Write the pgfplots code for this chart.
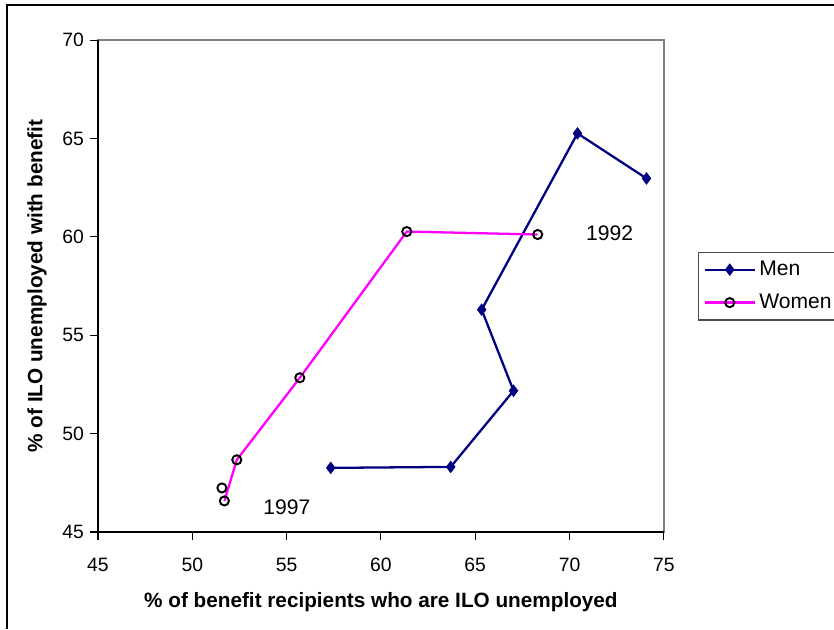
\documentclass[border=0pt]{standalone}
\usepackage{fontspec}
\setmainfont{Liberation Sans}
\usepackage{pgfplots}
\pgfplotsset{compat=1.18}
\definecolor{men}{HTML}{000080}
\definecolor{women}{HTML}{FF00FF}
\definecolor{frame}{HTML}{808080}

\begin{document}
\begin{tikzpicture}[x=0.02cm,y=0.02cm]
% page is 834 x 629 px, 1 px = 0.02cm
\useasboundingbox (0,0) rectangle (834,629);
\draw[black, line width=0.6pt] (7,0) -- (7,624) -- (834,624);
\begin{axis}[
  at={(1.96cm,1.94cm)}, anchor=south west,
  scale only axis,
  width=11.32cm, height=9.84cm,
  xmin=45, xmax=75, ymin=45, ymax=70,
  xtick={45,50,...,75}, ytick={45,50,...,70},
  tick align=outside, xtick pos=left, ytick pos=left,
  major tick length=0.16cm,
  axis line style={draw=frame, line width=0.8pt},
  tick style={black, line width=0.6pt},
  /pgf/number format/assume math mode=true,
  tick label style={font=\fontsize{11}{13}\selectfont},
  xticklabel style={yshift=-0.24cm},
  xlabel={\textbf{\% of benefit recipients who are ILO unemployed}},
  ylabel={\textbf{\% of ILO unemployed with benefit}},
  label style={font=\fontsize{11.8}{14}\selectfont},
  xlabel style={yshift=-5pt},
  ylabel style={yshift=2pt},
  legend cell align=left,
  legend style={at={(1.060,0.5697)}, anchor=north west,
    draw=black!70, line width=0.6pt, font=\fontsize{12}{14}\selectfont,
    inner sep=3pt, row sep=5pt},
  legend image code/.code={
    \draw[#1, mark repeat=2, mark phase=2] plot coordinates {(0cm,0cm) (0.5cm,0cm) (1cm,0cm)};
  },
  unbounded coords=jump,
  clip=false,
]
\addplot[men, line width=1.3pt, mark=diamond*, mark size=3.2pt,
  mark options={fill=men, draw=men, line width=0.5pt}] coordinates {
  (74.08,62.97) (70.42,65.26) (65.34,56.30) (67.03,52.18) (63.70,48.31) (57.34,48.26)
};
\addlegendentry{Men}
\addplot[women, line width=1.3pt, mark=o, mark size=2.6pt,
  mark options={draw=black, fill=white, line width=1.1pt}] coordinates {
  (68.31,60.12) (61.37,60.27) (55.70,52.84) (52.36,48.67) (51.70,46.58) (nan,nan) (51.57,47.24)
};
\addlegendentry{Women}
\node[font=\fontsize{12}{14}\selectfont] at (axis cs:72.12,60.19) {1992};
\node[font=\fontsize{12}{14}\selectfont] at (axis cs:55.01,46.27) {1997};
\draw[black, line width=0.8pt] (rel axis cs:0,1) -- (rel axis cs:0,0) -- (rel axis cs:1,0);
\end{axis}
\end{tikzpicture}
\end{document}
